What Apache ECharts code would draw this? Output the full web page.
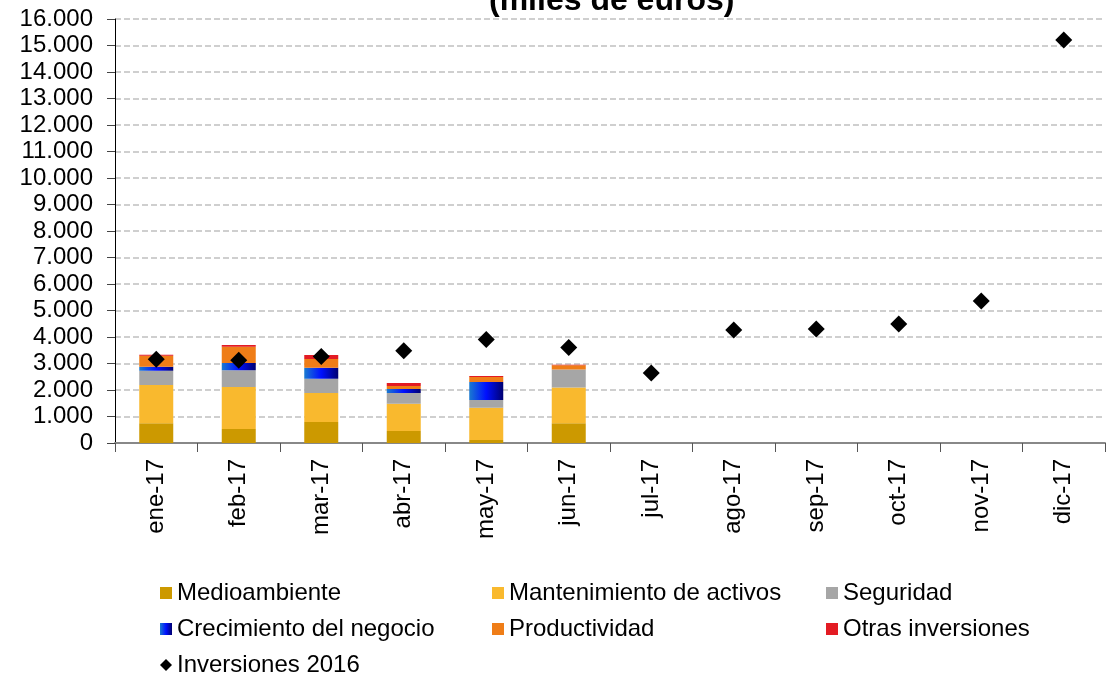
<!DOCTYPE html>
<html><head><meta charset="utf-8">
<script src="https://cdn.jsdelivr.net/npm/echarts@6/dist/echarts.min.js"></script>
<style>html,body{margin:0;padding:0;background:#fff}#c{width:1109px;height:677px}</style>
</head><body><div id="c"></div>
<script>
var categories = ['ene-17','feb-17','mar-17','abr-17','may-17','jun-17','jul-17','ago-17','sep-17','oct-17','nov-17','dic-17'];
var medioambiente = [750, 530, 790, 450, 110, 750, null, null, null, null, null, null];
var mantenimiento = [1440, 1580, 1100, 1030, 1220, 1340, null, null, null, null, null, null];
var seguridad = [540, 640, 530, 410, 290, 680, null, null, null, null, null, null];
var crecimiento = [150, 270, 420, 150, 680, 0, null, null, null, null, null, null];
var productividad = [410, 610, 330, 110, 190, 160, null, null, null, null, null, null];
var otras = [40, 70, 150, 110, 40, 20, null, null, null, null, null, null];
var inversiones2016 = [3160, 3120, 3260, 3480, 3910, 3600, 2640, 4260, 4300, 4490, 5360, 15210];
var yTicks = [0,1000,2000,3000,4000,5000,6000,7000,8000,9000,10000,11000,12000,13000,14000,15000,16000];

var chart = echarts.init(document.getElementById('c'));
var FONT = 'Liberation Sans, Arial, sans-serif';
var blueGrad = new echarts.graphic.LinearGradient(0,0,1,0,[
  {offset:0,color:'#1a7ad0'},{offset:0.5,color:'#0010ff'},{offset:1,color:'#000070'}]);
function bar(name, data, color){
  return {name:name, type:'bar', stack:'s', data:data, barWidth:34,
    itemStyle:{color:color}, emphasis:{disabled:true}};
}
var legText = {fontFamily:FONT, fontSize:24, color:'#000'};
function leg(left, names){
  return {orient:'vertical', left:left, top:581, itemGap:12, itemWidth:12, itemHeight:12,
    padding:0, textStyle:legText, data:names.map(function(n){
      return n==='Inversiones 2016' ? {name:n, icon:'diamond', itemStyle:{color:'#000', opacity:1}} : {name:n, icon:'rect'};
    })};
}
chart.setOption({
  animation:false,
  title:{text:'(miles de euros)', left:489, top:-15, padding:0,
    textStyle:{fontFamily:FONT, fontSize:32, fontWeight:'bold', color:'#000'}},
  legend:[
    leg(160, ['Medioambiente','Crecimiento del negocio','Inversiones 2016']),
    leg(492, ['Mantenimiento de activos','Productividad']),
    leg(826, ['Seguridad','Otras inversiones'])
  ],
  grid:{left:115, right:4, top:19, bottom:234, containLabel:false},
  xAxis:{type:'category', data:categories,
    axisLine:{lineStyle:{color:'#888', width:2}},
    axisTick:{show:true, length:9, lineStyle:{color:'#555'}},
    axisLabel:{rotate:90, fontFamily:FONT, fontSize:24, color:'#000', margin:16}},
  yAxis:{type:'value', min:0, max:16000, interval:1000,
    axisLine:{show:true, lineStyle:{color:'#000'}},
    axisTick:{show:true, inside:false, length:8, lineStyle:{color:'#444'}},
    splitLine:{lineStyle:{color:'#c0c0c0', type:[6,3], width:1.5}},
    axisLabel:{fontFamily:FONT, fontSize:24, color:'#000', margin:22,
      formatter:function(v){ return v===0 ? '0' : (v/1000).toFixed(0)+'.000'; }}},
  series:[
    bar('Medioambiente', medioambiente, '#cc9900'),
    bar('Mantenimiento de activos', mantenimiento, '#f9b92e'),
    bar('Seguridad', seguridad, '#a6a6a6'),
    bar('Crecimiento del negocio', crecimiento, blueGrad),
    bar('Productividad', productividad, '#ef7d17'),
    bar('Otras inversiones', otras, '#e31b23'),
    {name:'Inversiones 2016', type:'scatter', data:inversiones2016, symbol:'diamond',
      symbolSize:[17,17], itemStyle:{color:'#000', opacity:1}, z:10, emphasis:{disabled:true}}
  ]
});
</script></body></html>
